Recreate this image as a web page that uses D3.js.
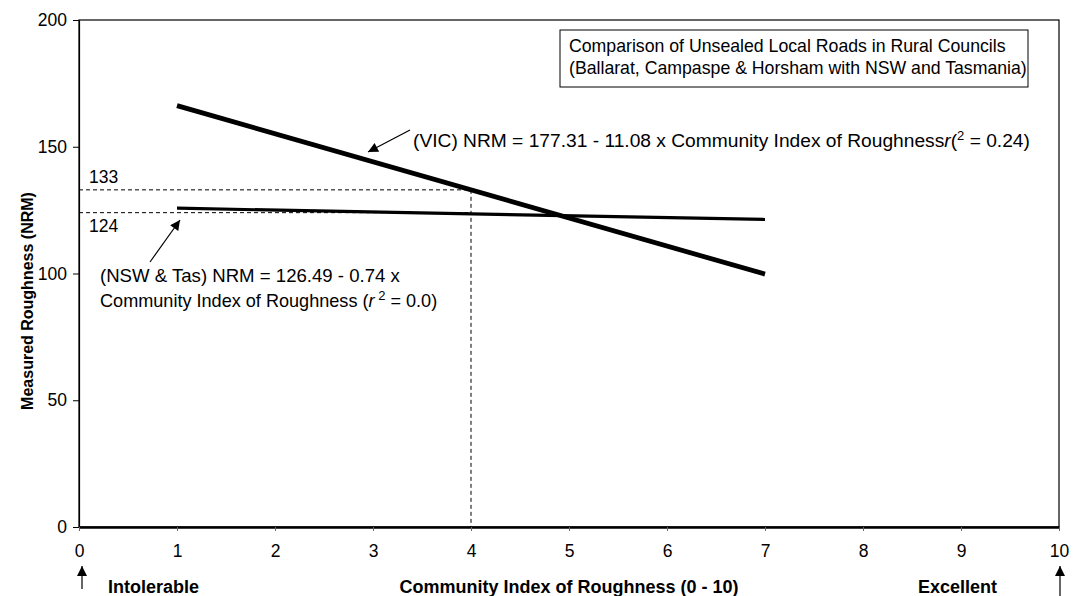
<!DOCTYPE html>
<html>
<head>
<meta charset="utf-8">
<script src="https://cdn.jsdelivr.net/npm/d3@7"></script>
<style>
  html, body { margin: 0; padding: 0; background: #fff; }
  svg { display: block; font-family: "Liberation Sans", Arial, sans-serif; }
</style>
</head>
<body>
<svg id="chart" width="1073" height="596"></svg>
<script>
// Axis ticks
const xTicks = [0, 1, 2, 3, 4, 5, 6, 7, 8, 9, 10];
const yTicks = [0, 50, 100, 150, 200];

// Fitted lines (Community Index -> NRM), endpoints of each regression line
const fitX = [1, 7];
const vicNRM = [166.23, 99.75];   // 177.31 - 11.08 x
const nswNRM = [125.75, 121.31];  // 126.49 - 0.74 x

// Reference guides at index 4
const guideX = 4;
const guideLevels = [133, 124];

const svg = d3.select("#chart");
const plot = { left: 79, right: 1059, top: 20, bottom: 527 };

const x = d3.scaleLinear().domain([0, 10]).range([plot.left, plot.right]);
const y = d3.scaleLinear().domain([0, 200]).range([plot.bottom, plot.top]);

// Plot frame
svg.append("rect")
  .attr("x", plot.left).attr("y", plot.top)
  .attr("width", plot.right - plot.left).attr("height", plot.bottom - plot.top)
  .attr("fill", "none").attr("stroke", "#000").attr("stroke-width", 1.2);

// Y axis
const yAxis = svg.append("g")
  .attr("transform", `translate(${plot.left},0)`)
  .call(d3.axisLeft(y).tickValues(yTicks).tickSize(6).tickSizeOuter(0).tickPadding(6));
yAxis.select(".domain").attr("stroke-width", 1.2);
yAxis.selectAll("text").attr("font-size", 17.5).attr("fill", "#000")
  .attr("font-family", "Liberation Sans, Arial, sans-serif");

// X axis
const xAxis = svg.append("g")
  .attr("transform", `translate(0,${plot.bottom})`)
  .call(d3.axisBottom(x).tickValues(xTicks).tickSize(4).tickSizeOuter(0).tickPadding(14));
xAxis.select(".domain").attr("stroke-width", 2.4);
xAxis.selectAll(".tick line").attr("stroke", "#666");
xAxis.selectAll("text").attr("font-size", 17.5).attr("fill", "#000")
  .attr("font-family", "Liberation Sans, Arial, sans-serif");

// Dashed guide lines
const guides = svg.append("g").attr("stroke", "#000").attr("stroke-width", 1)
  .attr("stroke-dasharray", "4,3").attr("fill", "none");
guideLevels.forEach(v => {
  guides.append("line")
    .attr("x1", x(0)).attr("x2", x(guideX))
    .attr("y1", y(v)).attr("y2", y(v));
});
guides.append("line")
  .attr("x1", x(guideX)).attr("x2", x(guideX))
  .attr("y1", y(d3.max(guideLevels))).attr("y2", y(0));

// Regression lines
const line = d3.line().x(d => x(d[0])).y(d => y(d[1]));
svg.append("path")
  .datum(fitX.map((v, i) => [v, nswNRM[i]]))
  .attr("d", line).attr("fill", "none").attr("stroke", "#000").attr("stroke-width", 3.2);
svg.append("path")
  .datum(fitX.map((v, i) => [v, vicNRM[i]]))
  .attr("d", line).attr("fill", "none").attr("stroke", "#000").attr("stroke-width", 4.8);

// Guide value labels
svg.append("text").attr("x", x(0) + 10).attr("y", y(guideLevels[0]) - 7)
  .attr("font-size", 17.5).text(guideLevels[0]);
svg.append("text").attr("x", x(0) + 10).attr("y", y(guideLevels[1]) + 19)
  .attr("font-size", 17.5).text(guideLevels[1]);

// Arrowhead marker
const defs = svg.append("defs");
defs.append("marker")
  .attr("id", "arrow").attr("viewBox", "0 0 10 10")
  .attr("refX", 10).attr("refY", 5)
  .attr("markerWidth", 14).attr("markerHeight", 10)
  .attr("markerUnits", "userSpaceOnUse")
  .attr("orient", "auto")
  .append("path").attr("d", "M0,0 L10,5 L0,10 Z").attr("fill", "#000");

function arrow(x1, y1, x2, y2) {
  svg.append("line")
    .attr("x1", x1).attr("y1", y1).attr("x2", x2).attr("y2", y2)
    .attr("stroke", "#000").attr("stroke-width", 1.2)
    .attr("marker-end", "url(#arrow)");
}

// VIC equation
arrow(410, 130, 368, 152);
const vic = svg.append("text").attr("x", 413).attr("y", 147).attr("font-size", 19.2);
vic.append("tspan").text("(VIC) NRM = 177.31 - 11.08 x Community Index of Roughness");
vic.append("tspan").attr("font-style", "italic").text("r");
vic.append("tspan").text("(");
vic.append("tspan").attr("dy", -7).attr("font-size", 13).text("2");
vic.append("tspan").attr("dy", 7).text(" = 0.24)");

// NSW & Tas equation
arrow(150, 262, 180, 220);
svg.append("text").attr("x", 100).attr("y", 282).attr("font-size", 18.6)
  .text("(NSW & Tas) NRM = 126.49 - 0.74 x");
const nsw = svg.append("text").attr("x", 100).attr("y", 307).attr("font-size", 18.1);
nsw.append("tspan").text("Community Index of Roughness (");
nsw.append("tspan").attr("font-style", "italic").text("r");
nsw.append("tspan").attr("dy", -7).attr("font-size", 13).text(" 2");
nsw.append("tspan").attr("dy", 7).text(" = 0.0)");

// Title box
svg.append("rect").attr("x", 560).attr("y", 30).attr("width", 468).attr("height", 57)
  .attr("fill", "#fff").attr("stroke", "#000").attr("stroke-width", 1);
svg.append("text").attr("x", 569).attr("y", 52).attr("font-size", 17.7)
  .text("Comparison of Unsealed Local Roads in Rural Councils");
svg.append("text").attr("x", 569).attr("y", 74).attr("font-size", 17.7)
  .text("(Ballarat, Campaspe & Horsham with NSW and Tasmania)");

// Axis titles
svg.append("text")
  .attr("transform", `translate(33,301) rotate(-90)`)
  .attr("text-anchor", "middle").attr("font-size", 16).attr("font-weight", "bold")
  .text("Measured Roughness (NRM)");
svg.append("text").attr("x", (plot.left + plot.right) / 2).attr("y", 593)
  .attr("text-anchor", "middle").attr("font-size", 18).attr("font-weight", "bold")
  .text("Community Index of Roughness (0 - 10)");

// Scale end descriptors
svg.append("text").attr("x", 108).attr("y", 593).attr("font-size", 18).attr("font-weight", "bold")
  .text("Intolerable");
svg.append("text").attr("x", 918).attr("y", 593).attr("font-size", 18).attr("font-weight", "bold")
  .text("Excellent");
arrow(x(0) + 3, 589, x(0) + 3, 566);
arrow(x(10) + 1, 596, x(10) + 1, 566);
</script>
</body>
</html>
